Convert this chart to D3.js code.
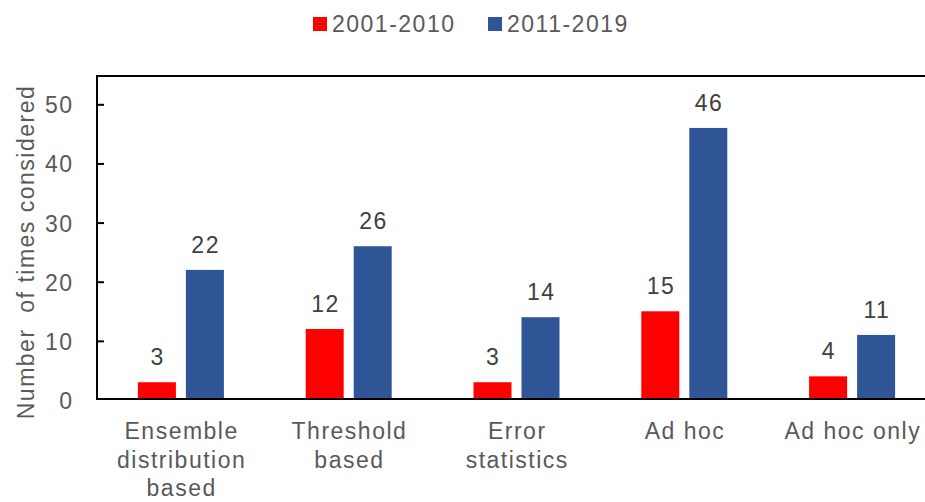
<!DOCTYPE html>
<html><head><meta charset="utf-8">
<script src="https://cdn.jsdelivr.net/npm/d3@7"></script>
<style>body{margin:0;background:#fff}svg{display:block}text{font-family:"Liberation Sans",Arial,sans-serif;letter-spacing:1.5px}</style>
</head><body><svg id="c" width="925" height="502"></svg>
<script>
const categories = [["Ensemble","distribution","based"],["Threshold","based"],["Error","statistics"],["Ad hoc"],["Ad hoc only"]];
const seriesNames = ["2001-2010","2011-2019"];
const series1 = [3,12,3,15,4];
const series2 = [22,26,14,46,11];
const yTicks = [0,10,20,30,40,50];
const colors = ["#FF0000","#2F5597"];

(function(){
const svg = d3.select("#c");
const pL = 97, pR = 936, pT = 76, pB = 400;
const keys = categories.map((c,i)=>i);
const x = d3.scaleBand().domain(keys).range([pL,pR]).paddingInner(0).paddingOuter(0);
const y = d3.scaleLinear().domain([0,50]).range([pB,104.3]);
const inner = d3.scaleBand().domain([0,1]).range([0,x.bandwidth()]).paddingInner(0.2083).paddingOuter(0.852);

svg.append("line").attr("x1",pL).attr("x2",925).attr("y1",pT).attr("y2",pT).attr("stroke","#000").attr("stroke-width",2);
svg.append("line").attr("x1",pL).attr("x2",pL).attr("y1",pT-1).attr("y2",pB).attr("stroke","#000").attr("stroke-width",2);

const yAxis = d3.axisRight(y).tickValues(yTicks.slice(1)).tickSize(7).tickFormat("");
const ya = svg.append("g").attr("transform",`translate(${pL},0)`).call(yAxis);
ya.select(".domain").remove();
ya.selectAll("line").attr("stroke","#000").attr("stroke-width",2);
svg.selectAll(".ytl").data(yTicks).join("text").attr("x",pL-23.5).attr("y",d=>y(d)+9)
  .attr("text-anchor","end").attr("font-size",23).attr("fill","#595959").text(d=>d);

const data = [series1, series2];
data.forEach((vals,s)=>{
  svg.selectAll(".b"+s).data(vals).join("rect")
    .attr("x",(d,i)=>x(i)+inner(s)).attr("width",inner.bandwidth())
    .attr("y",d=>y(d)).attr("height",d=>pB-y(d)).attr("fill",colors[s]);
  svg.selectAll(".l"+s).data(vals).join("text")
    .attr("x",(d,i)=>x(i)+inner(s)+inner.bandwidth()/2+0.75).attr("y",d=>y(d)-17)
    .attr("text-anchor","middle").attr("font-size",23).attr("fill","#404040").text(d=>d);
});

svg.append("line").attr("x1",pL).attr("x2",925).attr("y1",pB-1).attr("y2",pB-1).attr("stroke","#000").attr("stroke-width",2);

categories.forEach((lines,i)=>{
  const t = svg.append("text").attr("text-anchor","middle").attr("font-size",23).attr("fill","#595959");
  lines.forEach((ln,j)=>t.append("tspan").attr("x",x(i)+x.bandwidth()/2+0.75).attr("y",439+j*28.5).text(ln));
});

svg.append("text").attr("transform","translate(34,252) rotate(-90)").attr("text-anchor","middle")
  .attr("font-size",23).attr("fill","#595959").attr("xml:space","preserve").text("Number  of times considered");

const legX = [313,488];
seriesNames.forEach((n,i)=>{
  svg.append("rect").attr("x",legX[i]).attr("y",17).attr("width",14).attr("height",14).attr("fill",colors[i]);
  svg.append("text").attr("x",legX[i]+19).attr("y",31.5).attr("font-size",23).attr("fill","#595959").text(n);
});
})();
</script></body></html>
